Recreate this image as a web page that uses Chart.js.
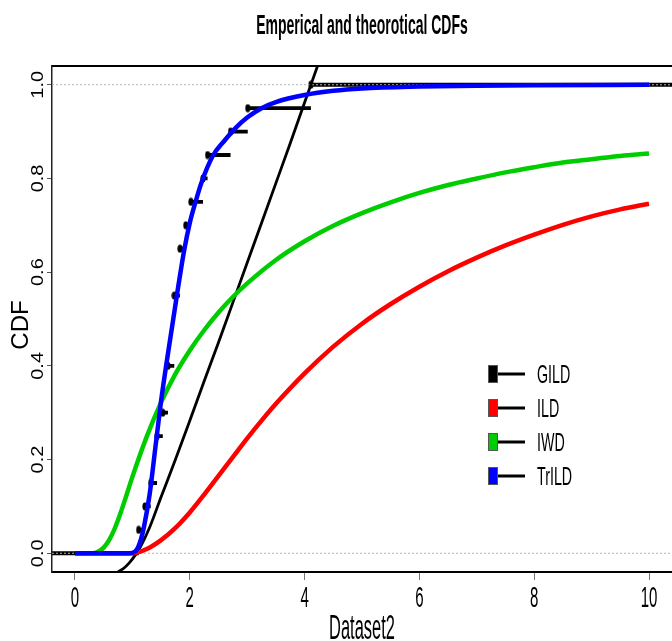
<!DOCTYPE html>
<html>
<head>
<meta charset="utf-8">
<script src="https://cdn.jsdelivr.net/npm/chart.js@4.4.1/dist/chart.umd.min.js"></script>
<style>
  html, body { margin: 0; padding: 0; background: #fff; }
  canvas { display: block; }
</style>
</head>
<body>
<canvas id="cdfChart" width="672" height="641"></canvas>
<script>
(function() {
  // ---- data ----
  var xMin = -0.4, xMax = 10.4;
  var yMin = -0.04, yMax = 1.04;
  var xTickValues = [0, 2, 4, 6, 8, 10];
  var xTickLabels = ['0', '2', '4', '6', '8', '10'];
  var yTickValues = [0, 0.2, 0.4, 0.6, 0.8, 1.0];
  var yTickLabels = ['0.0', '0.2', '0.4', '0.6', '0.8', '1.0'];
  var refLevels = [0, 1];

  // empirical CDF: jump locations and levels
  var ecdfX = [1.11, 1.22, 1.32, 1.43, 1.53, 1.62, 1.73, 1.83, 1.93, 2.02, 2.23, 2.31, 2.71, 3.01, 4.11];
  var ecdfY = [0.05, 0.10, 0.15, 0.25, 0.30, 0.40, 0.55, 0.65, 0.70, 0.75, 0.80, 0.85, 0.90, 0.95, 1.00];

  // fitted CDFs
  var gildX = [0.75, 0.85, 0.95, 1.05, 1.15, 1.3, 1.5, 1.75, 2.0, 2.25, 2.5, 2.75, 3.0, 3.25, 3.5, 3.75, 4.0, 4.24];
  var gildF = [-0.04, -0.032, -0.02, -0.004, 0.016, 0.055, 0.12, 0.2, 0.283, 0.367, 0.45, 0.535, 0.62, 0.705, 0.79, 0.875, 0.962, 1.045];

  var ildX = [0, 0.5, 1.0, 1.25, 1.5, 1.75, 2.0, 2.25, 2.5, 2.75, 3.0, 3.25, 3.5, 4.0, 4.5, 5.0, 5.5, 6.0, 6.5, 7.0, 7.5, 8.0, 8.5, 9.0, 9.5, 10];
  var ildF = [0, 0, 0, 0.009, 0.028, 0.054, 0.087, 0.125, 0.165, 0.205, 0.245, 0.283, 0.319, 0.384, 0.441, 0.49, 0.532, 0.569, 0.602, 0.631, 0.657, 0.68, 0.701, 0.719, 0.734, 0.746];

  var iwdX = [0, 0.3, 0.4, 0.5, 0.6, 0.7, 0.8, 0.9, 1.0, 1.25, 1.5, 1.75, 2.0, 2.25, 2.5, 2.75, 3.0, 3.5, 4.0, 4.5, 5.0, 5.5, 6.0, 6.5, 7.0, 7.5, 8.0, 8.5, 9.0, 9.5, 10];
  var iwdF = [0, 0, 0.003, 0.012, 0.029, 0.055, 0.088, 0.125, 0.163, 0.249, 0.322, 0.383, 0.433, 0.476, 0.514, 0.547, 0.576, 0.626, 0.666, 0.699, 0.726, 0.749, 0.769, 0.786, 0.8, 0.813, 0.824, 0.834, 0.841, 0.848, 0.853];

  var trildX = [0, 0.5, 0.95, 1.05, 1.1, 1.15, 1.2, 1.3, 1.4, 1.5, 1.6, 1.7, 1.8, 1.9, 2.0, 2.1, 2.2, 2.4, 2.6, 2.8, 3.0, 3.25, 3.5, 4.0, 4.5, 5.0, 6.0, 7.0, 8.0, 10.0];
  var trildF = [0, 0, 0, 0.004, 0.013, 0.03, 0.055, 0.125, 0.225, 0.325, 0.41, 0.49, 0.57, 0.645, 0.705, 0.75, 0.79, 0.848, 0.88, 0.908, 0.93, 0.95, 0.963, 0.978, 0.987, 0.992, 0.996, 0.998, 0.999, 1.0];

  var seriesNames = ['GILD', 'ILD', 'IWD', 'TrILD'];
  var seriesColors = ['#000000', '#ff0000', '#00cd00', '#0000ff'];

  var fontFamily = '"Liberation Sans", Arial, Helvetica, sans-serif';

  function toPoints(xs, ys) {
    return xs.map(function(x, i) { return { x: x, y: ys[i] }; });
  }

  // horizontal pieces of the step function, broken by null points
  function stepSegments() {
    var pts = [{ x: xMin, y: 0 }, { x: ecdfX[0], y: 0 }, { x: ecdfX[0], y: null }];
    ecdfX.forEach(function(x, i) {
      var end = i < ecdfX.length - 1 ? ecdfX[i + 1] : xMax;
      pts.push({ x: x, y: ecdfY[i] }, { x: end, y: ecdfY[i] }, { x: end, y: null });
    });
    return pts;
  }

  // filled dot, a bit taller than wide like the reference
  var dot = document.createElement('canvas');
  dot.width = 6;
  dot.height = 9;
  var dctx = dot.getContext('2d');
  dctx.fillStyle = '#000';
  dctx.beginPath();
  dctx.ellipse(3, 4.5, 2.6, 3.9, 0, 0, Math.PI * 2);
  dctx.fill();

  function curve(name, idx, xs, ys, width, order) {
    return {
      label: name,
      data: toPoints(xs, ys),
      borderColor: seriesColors[idx],
      borderWidth: width,
      pointRadius: 0,
      fill: false,
      cubicInterpolationMode: 'monotone',
      order: order
    };
  }

  var datasets = [
    curve(seriesNames[3], 3, trildX, trildF, 4.5, 0),
    curve(seriesNames[2], 2, iwdX, iwdF, 4.5, 1),
    curve(seriesNames[1], 1, ildX, ildF, 4.5, 2),
    curve(seriesNames[0], 0, gildX, gildF, 2.8, 3)
  ];
  refLevels.forEach(function(level) {
    datasets.push({
      label: 'ref' + level,
      data: [{ x: xMin, y: level }, { x: xMax, y: level }],
      borderColor: '#b3b3b3',
      borderWidth: 1,
      borderDash: [2, 2],
      pointRadius: 0,
      order: 4
    });
  });
  datasets.push({
    label: 'ecdf points',
    data: toPoints(ecdfX, ecdfY),
    showLine: false,
    pointStyle: dot,
    pointRadius: 4,
    order: 5
  });
  datasets.push({
    label: 'ecdf',
    data: stepSegments(),
    borderColor: '#000',
    borderWidth: 3.8,
    pointRadius: 0,
    spanGaps: false,
    order: 6
  });

  function drawText(ctx, text, x, y, o) {
    ctx.save();
    ctx.translate(x, y);
    if (o.rotate) ctx.rotate(-Math.PI / 2);
    ctx.scale(o.sx || 1, o.sy || 1);
    ctx.font = (o.weight || 'normal') + ' ' + o.size + 'px ' + fontFamily;
    ctx.fillStyle = '#000';
    ctx.textAlign = o.align || 'center';
    ctx.textBaseline = 'alphabetic';
    ctx.fillText(text, 0, o.size * 0.358);
    ctx.restore();
  }

  var textPlugin = {
    id: 'rText',
    afterDraw: function(chart) {
      var ctx = chart.ctx;
      var area = chart.chartArea;
      var xs = chart.scales.x;
      var ys = chart.scales.y;
      var midX = (area.left + area.right) / 2;

      // box top edge
      ctx.save();
      ctx.strokeStyle = '#000';
      ctx.lineWidth = 2;
      ctx.beginPath();
      ctx.moveTo(area.left, area.top);
      ctx.lineTo(area.right, area.top);
      ctx.stroke();
      ctx.restore();

      drawText(ctx, 'Emperical and theorotical CDFs', midX, 24, { size: 28, weight: 'bold', sx: 0.5 });

      xTickValues.forEach(function(v, i) {
        drawText(ctx, xTickLabels[i], xs.getPixelForValue(v), 596, { size: 30, sx: 0.5 });
      });
      drawText(ctx, 'Dataset2', midX, 626, { size: 35, sx: 0.47 });

      yTickValues.forEach(function(v, i) {
        drawText(ctx, yTickLabels[i], 37, ys.getPixelForValue(v), { size: 20, rotate: true, sy: 0.78 });
      });
      drawText(ctx, 'CDF', 19, 325, { size: 24, rotate: true });

      // legend
      seriesNames.forEach(function(name, i) {
        var cy = 374 + i * 34;
        ctx.save();
        ctx.fillStyle = seriesColors[i];
        ctx.fillRect(488, cy - 9, 10, 18);
        ctx.strokeStyle = '#555';
        ctx.lineWidth = 1;
        ctx.strokeRect(488.5, cy - 8.5, 9, 17);
        ctx.strokeStyle = '#000';
        ctx.lineWidth = 3;
        ctx.beginPath();
        ctx.moveTo(498, cy);
        ctx.lineTo(525, cy);
        ctx.stroke();
        ctx.restore();
        drawText(ctx, name, 537, cy, { size: 25, sx: 0.57, align: 'left' });
      });
    }
  };

  new Chart(document.getElementById('cdfChart'), {
    type: 'line',
    data: { datasets: datasets },
    options: {
      responsive: false,
      animation: false,
      devicePixelRatio: 1,
      events: [],
      layout: { autoPadding: false, padding: { top: 66, left: 0, right: 0, bottom: 0 } },
      plugins: {
        legend: { display: false },
        tooltip: { enabled: false },
        title: { display: false }
      },
      scales: {
        x: {
          type: 'linear',
          min: xMin,
          max: xMax,
          afterBuildTicks: function(s) {
            s.ticks = xTickValues.map(function(v) { return { value: v }; });
          },
          afterFit: function(s) { s.height = 69; },
          ticks: { display: false },
          grid: { drawOnChartArea: false, drawTicks: true, tickLength: 8, color: '#777', lineWidth: 1 },
          border: { display: true, color: '#000', width: 2 }
        },
        y: {
          type: 'linear',
          min: yMin,
          max: yMax,
          afterBuildTicks: function(s) {
            s.ticks = yTickValues.map(function(v) { return { value: v }; });
          },
          afterFit: function(s) { s.width = 52; },
          ticks: { display: false },
          grid: { drawOnChartArea: false, drawTicks: true, tickLength: 5, color: '#555', lineWidth: 1 },
          border: { display: true, color: '#222', width: 1.5 }
        }
      }
    },
    plugins: [textPlugin]
  });
})();
</script>
</body>
</html>
